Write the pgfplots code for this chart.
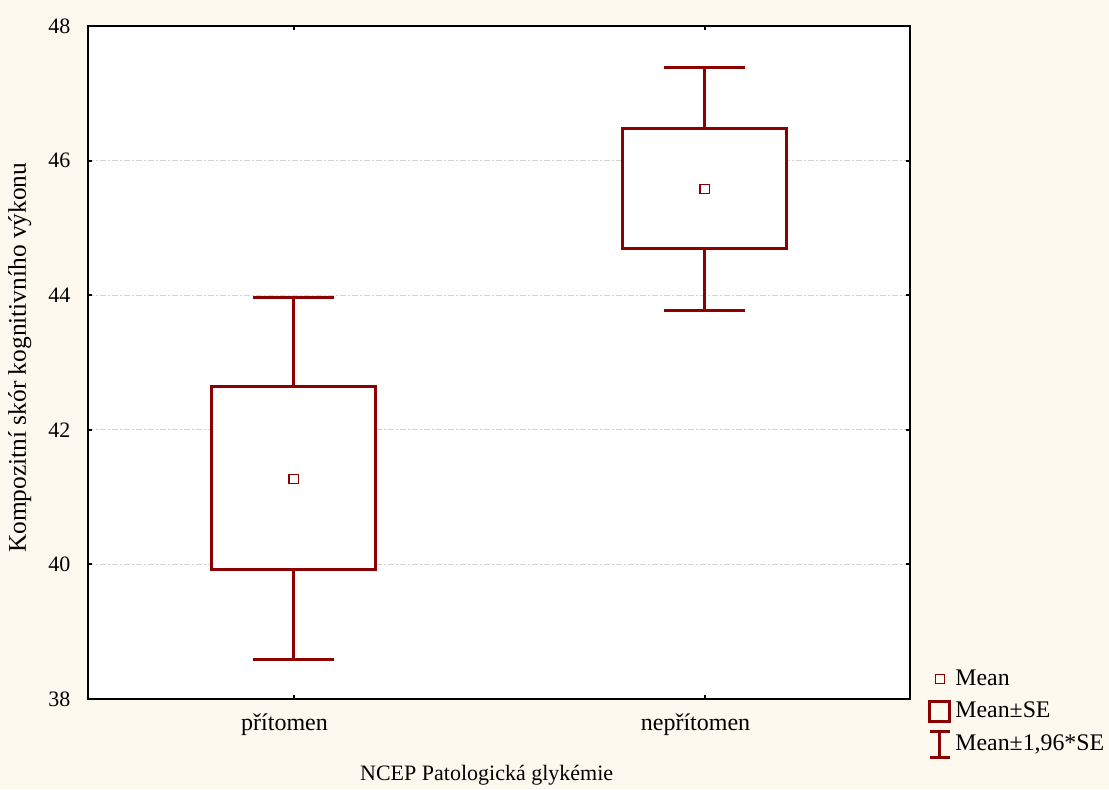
\documentclass[border=0pt]{standalone}
\usepackage{fontspec}
\setmainfont{Liberation Serif}
\usepackage{pgfplots}
\pgfplotsset{compat=1.18}

\definecolor{bg}{RGB}{253,249,238}
\definecolor{dred}{RGB}{139,0,0}

\begin{document}
\fontsize{11pt}{13.5pt}\selectfont
\begin{tikzpicture}
  % page = 1109 x 789 px at 0.5pt per px
  \path[use as bounding box, fill=bg] (0,0) rectangle (554.5pt,394.5pt);
  \begin{axis}[
    at={(44pt,45pt)}, anchor=south west,
    scale only axis,
    width=411pt, height=336.5pt,
    xmin=0, xmax=4,
    ymin=38, ymax=48,
    xtick={1,3},
    xticklabels={přítomen, nepřítomen},
    ytick={38,40,...,48},
    /pgf/number format/assume math mode=true,
    tick align=inside,
    major tick length=2pt,
    tick style={black, line width=1pt},
    axis line style={black, line width=1pt},
    axis background/.style={fill=white},
    ymajorgrids,
    grid style={gray!35, line width=0.5pt, dash pattern=on 3pt off 1pt on 1pt off 1pt},
    yticklabel style={xshift=-5pt},
    xticklabel style={yshift=-3.5pt, xshift=-4.5pt, font=\fontsize{12pt}{14pt}\selectfont},
    xlabel={NCEP Patologická glykémie},
    xlabel style={at={(axis description cs:0.485,-0.113)}, anchor=center},
    ylabel={Kompozitní skór kognitivního výkonu},
    ylabel style={at={(axis description cs:-0.083,0.507)}, anchor=center, rotate=0,
      font=\fontsize{12.7pt}{15pt}\selectfont},
    legend style={draw=none, fill=none, at={(rel axis cs:1.022,0.05)}, anchor=north west,
      row sep=2.5pt, inner sep=0pt, cells={anchor=west},
      font=\fontsize{11.9pt}{14pt}\selectfont},
    legend cell align=left,
  ]
    % whiskers (mean +- 1.96*SE)
    \addplot[dred, line width=1.5pt, forget plot] coordinates {(1,38.59) (1,39.93)};
    \addplot[dred, line width=1.5pt, forget plot] coordinates {(1,42.65) (1,43.97)};
    \addplot[dred, line width=1.5pt, forget plot] coordinates {(0.805,38.59) (1.195,38.59)};
    \addplot[dred, line width=1.5pt, forget plot] coordinates {(0.805,43.97) (1.195,43.97)};
    \addplot[dred, line width=1.5pt, forget plot] coordinates {(3,43.77) (3,44.69)};
    \addplot[dred, line width=1.5pt, forget plot] coordinates {(3,46.48) (3,47.38)};
    \addplot[dred, line width=1.5pt, forget plot] coordinates {(2.805,43.77) (3.195,43.77)};
    \addplot[dred, line width=1.5pt, forget plot] coordinates {(2.805,47.38) (3.195,47.38)};

    % boxes (mean +- SE)
    \addplot[dred, line width=1.5pt, fill=white, forget plot] coordinates
      {(0.603,39.93) (1.397,39.93) (1.397,42.65) (0.603,42.65)} -- cycle;
    \addplot[dred, line width=1.5pt, fill=white, forget plot] coordinates
      {(2.603,44.69) (3.397,44.69) (3.397,46.48) (2.603,46.48)} -- cycle;

    % means
    \addplot[only marks, mark=square, mark size=2.3pt, mark options={dred, line width=0.6pt}, forget plot]
      coordinates {(1,41.27) (3,45.58)};

    % legend
    \addlegendimage{legend image code/.code={
      \draw[dred, line width=0.6pt] (3.5pt,-2.3pt) rectangle (8.1pt,2.3pt);}}
    \addlegendentry{Mean}
    \addlegendimage{legend image code/.code={
      \draw[dred, line width=1.5pt] (0.8pt,-5pt) rectangle (10.8pt,5pt);}}
    \addlegendentry{Mean±SE}
    \addlegendimage{legend image code/.code={
      \draw[dred, line width=1.5pt] (5.8pt,-6.5pt) -- (5.8pt,6.5pt)
        (0.8pt,-6.5pt) -- (10.8pt,-6.5pt) (0.8pt,6.5pt) -- (10.8pt,6.5pt);}}
    \addlegendentry{Mean±1,96*SE}
  \end{axis}
\end{tikzpicture}
\end{document}
